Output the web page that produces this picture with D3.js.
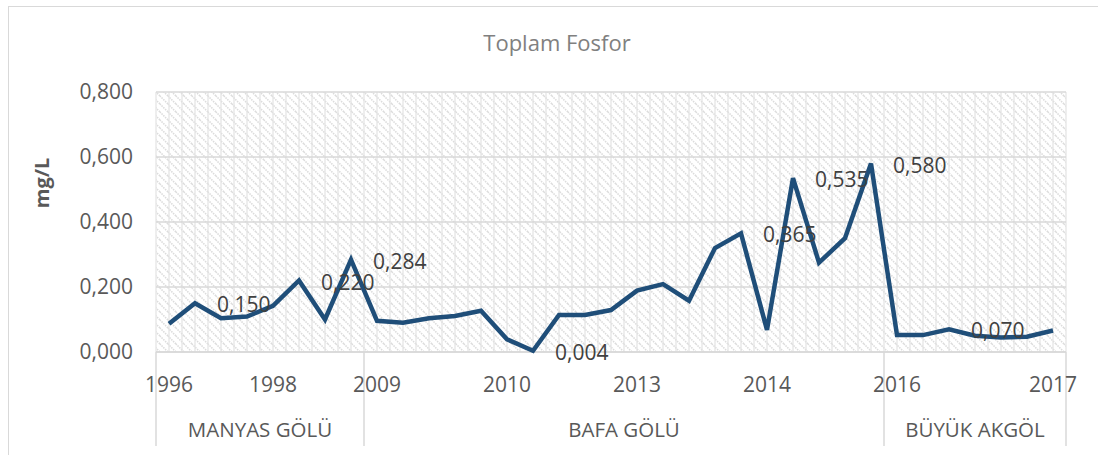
<!DOCTYPE html>
<html>
  <head>
    <meta charset="utf-8" />
    <script src="https://d3js.org/d3.v7.min.js"></script>
    <style>
      body { margin: 0; background: #fff; }
      svg { display: block; font-family: "Open Sans", sans-serif; }
    </style>
  </head>
  <body>
    <svg id="chart"></svg>
    <script>
      // values (mg/L), one per sample
      var values = [
        0.087, 0.150, 0.104, 0.109, 0.142, 0.220, 0.100, 0.284,
        0.096, 0.090, 0.104, 0.111, 0.127, 0.039, 0.004, 0.114, 0.114, 0.129,
        0.189, 0.209, 0.158, 0.320, 0.365, 0.068, 0.535, 0.275, 0.350, 0.580,
        0.052, 0.052, 0.070, 0.050, 0.045, 0.047, 0.066
      ];
      // year labels and the sample index they sit under
      var yearLabels = ["1996", "1998", "2009", "2010", "2013", "2014", "2016", "2017"];
      var yearIndex = [0, 4, 8, 13, 18, 23, 28, 34];
      // lake groups: first and last sample index
      var lakes = ["MANYAS GÖLÜ", "BAFA GÖLÜ", "BÜYÜK AKGÖL"];
      var lakeStart = [0, 8, 28];
      var lakeEnd = [7, 27, 34];
      // samples that carry a data label
      var labelled = [1, 5, 7, 14, 22, 24, 27, 30];
      var yTicks = [0, 0.2, 0.4, 0.6, 0.8];

      var width = 1098;
      var height = 455;
      var plotLeft = 156, plotRight = 1066, plotTop = 92, plotBottom = 352;

      var svg = d3.select("#chart").attr("width", width).attr("height", height);

      var locale = d3.formatLocale({ decimal: ",", thousands: ".", grouping: [3], currency: ["", ""] });
      var fmt = locale.format(".3f");

      var x = d3.scaleBand().domain(d3.range(values.length)).range([plotLeft, plotRight]);
      var y = d3.scaleLinear().domain([0, 0.8]).range([plotBottom, plotTop]);
      var cx = function (i) { return x(i) + x.bandwidth() / 2; };

      // hatch fill of the plot area
      var pat = svg.append("defs").append("pattern")
        .attr("id", "hatch")
        .attr("patternUnits", "userSpaceOnUse")
        .attr("width", 8).attr("height", 8);
      pat.append("path")
        .attr("d", "M-2,-2 L10,10 M-2,6 L2,10 M6,-2 L10,2")
        .attr("stroke", "#dcdcdc")
        .attr("stroke-width", 1.6)
        .attr("stroke-dasharray", "1.5,1");

      // chart border
      svg.append("rect")
        .attr("x", 8.5).attr("y", 6.5)
        .attr("width", 1120).attr("height", 470)
        .attr("fill", "none").attr("stroke", "#d9d9d9");

      svg.append("rect")
        .attr("x", plotLeft).attr("y", plotTop)
        .attr("width", plotRight - plotLeft).attr("height", plotBottom - plotTop)
        .attr("fill", "url(#hatch)");

      // vertical gridlines at every half category
      var vlines = d3.range(values.length * 2 + 1).map(function (k) {
        return plotLeft + k * x.bandwidth() / 2;
      });
      svg.append("g").selectAll("line").data(vlines).join("line")
        .attr("x1", function (d) { return d; }).attr("x2", function (d) { return d; })
        .attr("y1", plotTop).attr("y2", plotBottom)
        .attr("stroke", "#e3e3e3").attr("stroke-width", 1.2);

      // horizontal gridlines
      svg.append("g").selectAll("line").data(yTicks).join("line")
        .attr("x1", plotLeft).attr("x2", plotRight)
        .attr("y1", function (d) { return y(d); }).attr("y2", function (d) { return y(d); })
        .attr("stroke", "#d9d9d9").attr("stroke-width", 1.3);

      // y axis labels
      svg.append("g").selectAll("text").data(yTicks).join("text")
        .attr("x", 133).attr("y", function (d) { return y(d) + 7; })
        .attr("text-anchor", "end")
        .attr("font-size", 21).attr("fill", "#595959")
        .text(function (d) { return fmt(d); });

      svg.append("text")
        .attr("transform", "translate(49,183) rotate(-90)")
        .attr("text-anchor", "middle")
        .attr("font-size", 20).attr("font-weight", "bold").attr("fill", "#595959")
        .text("mg/L");

      // title
      svg.append("text")
        .attr("x", 557).attr("y", 51)
        .attr("text-anchor", "middle")
        .attr("font-size", 22).attr("fill", "#808080")
        .text("Toplam Fosfor");

      // category axis: base line and group dividers
      svg.append("line")
        .attr("x1", plotLeft).attr("x2", plotRight).attr("y1", plotBottom).attr("y2", plotBottom)
        .attr("stroke", "#d9d9d9").attr("stroke-width", 1.5);
      var dividers = [plotLeft].concat(lakeEnd.map(function (e) { return x(e) + x.bandwidth(); }));
      svg.append("g").selectAll("line").data(dividers).join("line")
        .attr("x1", function (d) { return d; }).attr("x2", function (d) { return d; })
        .attr("y1", plotBottom).attr("y2", 446)
        .attr("stroke", "#d9d9d9").attr("stroke-width", 1.5);

      svg.append("g").selectAll("text").data(yearLabels).join("text")
        .attr("x", function (d, i) { return cx(yearIndex[i]); })
        .attr("y", 392)
        .attr("text-anchor", "middle")
        .attr("font-size", 21).attr("fill", "#595959")
        .text(function (d) { return d; });

      svg.append("g").selectAll("text").data(lakes).join("text")
        .attr("x", function (d, i) { return (x(lakeStart[i]) + x(lakeEnd[i]) + x.bandwidth()) / 2; })
        .attr("y", 437)
        .attr("text-anchor", "middle")
        .attr("font-size", 20.5).attr("fill", "#595959")
        .text(function (d) { return d; });

      // the line
      var line = d3.line()
        .x(function (d, i) { return cx(i); })
        .y(function (d) { return y(d); });
      svg.append("path")
        .datum(values)
        .attr("d", line)
        .attr("fill", "none")
        .attr("stroke", "#1f4e79")
        .attr("stroke-width", 4.5)
        .attr("stroke-linejoin", "miter");

      // data labels, placed right of the point
      svg.append("g").selectAll("text").data(labelled).join("text")
        .attr("x", function (i) { return cx(i) + 22; })
        .attr("y", function (i) { return y(values[i]) + 9; })
        .attr("font-size", 21).attr("fill", "#404040")
        .text(function (i) { return fmt(values[i]); });
    </script>
  </body>
</html>
